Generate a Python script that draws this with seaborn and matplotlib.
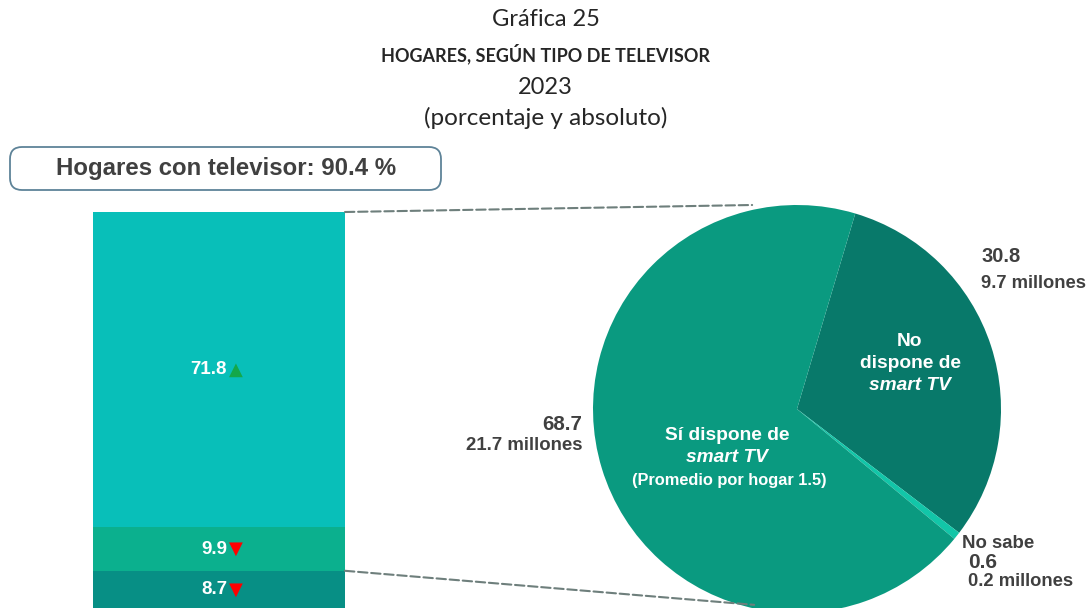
#! /usr/bin/env python3
import matplotlib
matplotlib.use('Agg')
import matplotlib.pyplot as plt
from matplotlib.patches import FancyBboxPatch, ConnectionPatch
import numpy as np
import seaborn as sns

# settings
sns.set_theme(style="white")
plt.rcParams['font.family'] = ['Liberation Sans', 'DejaVu Sans']

# data: stacked bar (households with TV)
bar_values = [8.7, 9.9, 71.8]          # bottom -> top
bar_arrows = ['▼', '▼', '▲']
bar_arrow_colors = ['#FF0000', '#FF0000', '#14A84A']
bar_colors = ['#078F85', '#0BB08E', '#08BFB9']
total_tv = 90.4

# data: pie (smart TV)
pie_labels = ['No dispone', 'No sabe', 'Sí dispone']
pie_values = [30.8, 0.6, 68.7]
pie_millions = [9.7, 0.2, 21.7]
pie_colors = ['#08796A', '#12C6A8', '#0A9A80']

W, H = 1091, 608
fig = plt.figure(figsize=(W / 100, H / 100), dpi=100)

def fx(px):
    return px / W

def fy(py):
    return 1 - py / H

dark = '#404040'
title_font = ['Lato', 'DejaVu Sans']

# titles
fig.text(0.5, fy(20), 'Gráfica 25', ha='center', va='center', fontsize=17, family=title_font)
fig.text(0.5, fy(54), 'HOGARES, SEGÚN TIPO DE TELEVISOR', ha='center', va='center', fontsize=13,
         fontweight='bold', family=title_font)
fig.text(0.5, fy(88), '2023', ha='center', va='center', fontsize=17, family=title_font)
fig.text(0.5, fy(118), '(porcentaje y absoluto)', ha='center', va='center', fontsize=17.5,
         family=title_font)

# header box
box = FancyBboxPatch((fx(10), fy(190)), fx(431), 43 / H, boxstyle='round,pad=0,rounding_size=0.011',
                     transform=fig.transFigure, facecolor='white', edgecolor='#5E8398', linewidth=1.3,
                     mutation_aspect=W / H)
fig.add_artist(box)
fig.text(fx(226), fy(169), 'Hogares con televisor: 90.4 %', ha='center', va='center', fontsize=17.3,
         fontweight='bold', color=dark)

# stacked bar
ax_bar = fig.add_axes([fx(93), fy(609), fx(252), 397 / H])
bottom = 0
for v, c, arr, ac in zip(bar_values, bar_colors, bar_arrows, bar_arrow_colors):
    ax_bar.bar(0, v, bottom=bottom, width=1, color=c, linewidth=0)
    ax_bar.text(0.032, bottom + v / 2, f'{v:.1f}', ha='right', va='center', color='white',
                fontsize=13.5, fontweight='bold')
    ax_bar.text(0.04, bottom + v / 2, arr, ha='left', va='center', color=ac, fontsize=13,
                family=['DejaVu Sans'])
    bottom += v
ax_bar.set_xlim(-0.5, 0.5)
ax_bar.set_ylim(0, total_tv)
ax_bar.axis('off')

# pie
R = 204
ax_pie = fig.add_axes([fx(797 - R), fy(409 + R), fx(2 * R), 2 * R / H])
ax_pie.pie(pie_values, colors=pie_colors, startangle=73.4, counterclock=False, radius=1,
           wedgeprops=dict(linewidth=0))
ax_pie.set_xlim(-1, 1)
ax_pie.set_ylim(-1, 1)
ax_pie.axis('off')

# inside labels
wt = dict(color='white', fontweight='bold', ha='center', va='center', fontsize=13.8)
fig.text(fx(910), fy(341), 'No', **wt)
fig.text(fx(910), fy(364), 'dispone de', **wt)
fig.text(fx(910), fy(386), 'smart TV', style='italic', **wt)
fig.text(fx(727), fy(436), 'Sí dispone de', **wt)
fig.text(fx(727), fy(458), 'smart TV', style='italic', **wt)
fig.text(fx(729), fy(481), '(Promedio por hogar 1.5)', color='white', fontweight='bold',
         ha='center', va='center', fontsize=11.8)

# outside labels
fig.text(fx(981), fy(257), f'{pie_values[0]:.1f}', ha='left', va='center', fontsize=14.5,
         fontweight='bold', color=dark)
fig.text(fx(981), fy(283), f'{pie_millions[0]:.1f} millones', ha='left', va='center', fontsize=13.2,
         fontweight='bold', color=dark)
fig.text(fx(582), fy(425), f'{pie_values[2]:.1f}', ha='right', va='center', fontsize=14.8,
         fontweight='bold', color=dark)
fig.text(fx(582), fy(446), f'{pie_millions[2]:.1f} millones', ha='right', va='center', fontsize=13.4,
         fontweight='bold', color=dark)
fig.text(fx(962), fy(544), pie_labels[1], ha='left', va='center', fontsize=13.4,
         fontweight='bold', color=dark)
fig.text(fx(968), fy(563), f'{pie_values[1]:.1f}', ha='left', va='center', fontsize=15,
         fontweight='bold', color=dark)
fig.text(fx(968), fy(581), f'{pie_millions[1]:.1f} millones', ha='left', va='center', fontsize=13.2,
         fontweight='bold', color=dark)

# connector lines
line_kw = dict(color='#6E7F7C', linestyle=(0, (4.5, 1.8)), linewidth=1.5)
fig.add_artist(ConnectionPatch(xyA=(0.5, total_tv), coordsA=ax_bar.transData,
                               xyB=(-0.22, 1.0), coordsB=ax_pie.transData, **line_kw))
fig.add_artist(ConnectionPatch(xyA=(0.5, bar_values[0]), coordsA=ax_bar.transData,
                               xyB=(-0.21, -0.96), coordsB=ax_pie.transData, **line_kw))

fig.savefig('out.png', dpi=100)
plt.close()
